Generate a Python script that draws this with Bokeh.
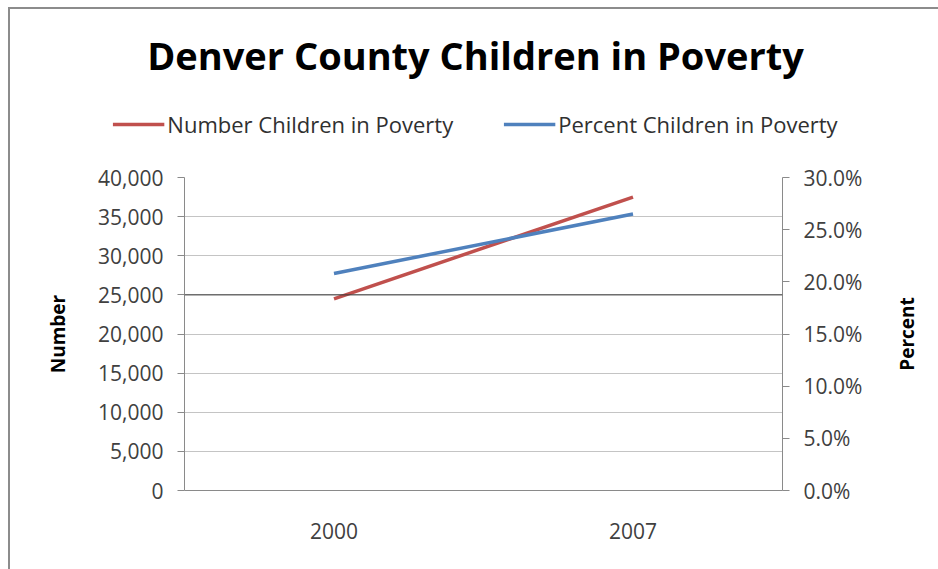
from bokeh.plotting import figure
from bokeh.layouts import column, row
from bokeh.models import (ColumnDataSource, Range1d, LinearAxis, SingleIntervalTicker, FixedTicker,
                          NumeralTickFormatter, Legend, LegendItem, Span, FactorRange)
from bokeh.embed import file_html
from bokeh.resources import INLINE

years = ["2000", "2007"]
number_children = [24500, 37500]
percent_children = [0.208, 0.265]
percent_ticks = [0.0, 0.05, 0.10, 0.15, 0.20, 0.25, 0.30]
dark_grid_value = 25000

title_text = "Denver County Children in Poverty"
series_names = ["Number Children in Poverty", "Percent Children in Poverty"]
left_title = "Number"
right_title = "Percent"

FONT = "Open Sans"
TICK_COLOR = "#404040"
AXIS_COLOR = "#8a8a8a"
GRID_COLOR = "#c4c4c4"
RED = "#C0504D"
BLUE = "#4F81BD"

src = ColumnDataSource(dict(year=years, num=number_children, pct=percent_children))

# ---- header figure: title + legend (its data view is parked out of sight) ----
top = figure(width=930, height=150, x_range=FactorRange(*years), y_range=(-2, -1),
             x_axis_type=None, y_axis_type=None, output_backend="svg", toolbar_location=None,
             min_border_left=0, min_border_right=0, min_border_top=71, min_border_bottom=0)
top.frame_align = False
top.outline_line_color = None
top.grid.visible = False
top.title.text = title_text
top.title.align = "center"
top.title.text_font = FONT
top.title.text_font_size = "38px"
top.title.text_font_style = "bold"
top.title.text_color = "black"
top.title.offset = 0
top.title.standoff = 0

l1 = top.line("year", "num", source=src, line_color=RED, line_width=3.5)
l2 = top.line("year", "pct", source=src, line_color=BLUE, line_width=3.5)
legend = Legend(items=[LegendItem(label=series_names[0], renderers=[l1]),
                       LegendItem(label=series_names[1], renderers=[l2])],
                orientation="horizontal", location="bottom_center",
                label_text_font=FONT, label_text_font_size="22px", label_text_color="#303030",
                glyph_width=52, glyph_height=20, label_standoff=3, spacing=50,
                border_line_color=None, background_fill_alpha=0, padding=0, margin=20)
top.add_layout(legend, "center")

# ---- main chart ----
p = figure(width=881, height=412, x_range=FactorRange(*years, range_padding=0),
           y_range=Range1d(0, 40000), output_backend="svg", toolbar_location=None,
           min_border_left=174, min_border_right=109, min_border_top=18, min_border_bottom=81)
p.frame_align = False
p.extra_y_ranges = {"pct": Range1d(0, 0.30)}
p.outline_line_color = None

p.line("year", "num", source=src, line_color=RED, line_width=3.5)
p.line("year", "pct", source=src, line_color=BLUE, line_width=3.5, y_range_name="pct")

ya = p.yaxis[0]
ya.ticker = SingleIntervalTicker(interval=5000)
ya.formatter = NumeralTickFormatter(format="0,0")
ya.axis_label = left_title

ra = LinearAxis(y_range_name="pct", ticker=FixedTicker(ticks=percent_ticks),
                formatter=NumeralTickFormatter(format="0.0%"))
p.add_layout(ra, "right")

for ax in [ya, ra]:
    ax.axis_line_color = AXIS_COLOR
    ax.major_tick_line_color = AXIS_COLOR
    ax.major_tick_out = 7
    ax.major_tick_in = 0
    ax.minor_tick_line_color = None
    ax.major_label_text_font = FONT
    ax.major_label_text_font_size = "21px"
    ax.major_label_text_color = TICK_COLOR
    ax.major_label_standoff = 14
    ax.axis_label_text_font = FONT
    ax.axis_label_text_font_size = "19px"
    ax.axis_label_text_font_style = "bold"
    ax.axis_label_text_color = "black"
    ax.axis_label_standoff = 24

xa = p.xaxis[0]
xa.axis_line_color = AXIS_COLOR
xa.major_tick_line_color = None
xa.major_label_text_font = FONT
xa.major_label_text_font_size = "21px"
xa.major_label_text_color = TICK_COLOR
xa.major_label_standoff = 26

p.xgrid.grid_line_color = None
p.ygrid.grid_line_color = GRID_COLOR
p.ygrid.grid_line_width = 1

p.add_layout(Span(location=dark_grid_value, dimension="width", line_color="#3a3a3a", line_width=1))

# ---- right strip carrying the secondary axis title (reads bottom-to-top) ----
pr = figure(width=49, height=412, x_axis_type=None, y_axis_type=None,
            output_backend="svg", toolbar_location=None, title_location="left",
            min_border_left=0, min_border_right=0, min_border_top=18, min_border_bottom=81)
pr.frame_align = False
pr.outline_line_color = None
pr.grid.visible = False
pr.title.text = right_title
pr.title.align = "center"
pr.title.text_font = FONT
pr.title.text_font_size = "19px"
pr.title.text_font_style = "bold"
pr.title.text_color = "black"
pr.title.offset = 0
pr.title.standoff = 0

layout = column(top, row(p, pr, spacing=0), spacing=0, margin=(7, 0, 0, 8))
layout.styles = {"border-top": "2px solid #8c8c8c", "border-left": "2px solid #8c8c8c"}

open("out.html", "w").write(file_html(layout, INLINE))
